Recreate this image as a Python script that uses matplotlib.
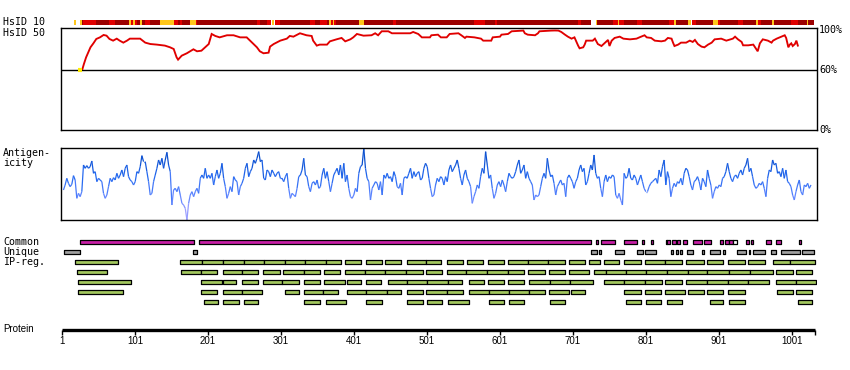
import numpy as np
import matplotlib
matplotlib.use("Agg")
import matplotlib.pyplot as plt
from matplotlib.collections import LineCollection
from matplotlib.colors import LinearSegmentedColormap, Normalize

# ---- data ------------------------------------------------------------------
prot_len = 1032
tick_res = [1, 101, 201, 301, 401, 501, 601, 701, 801, 901, 1001]

# HsID 10 heat strip: segment start residue + identity level
heat_start = [17, 20, 26, 28, 30, 48, 66, 74, 93, 95,
              98, 101, 104, 108, 110, 115, 122, 135, 154, 160,
              163, 166, 177, 185, 186, 268, 272, 282, 287, 289,
              291, 293, 300, 341, 348, 354, 364, 367, 369, 372,
              374, 377, 408, 415, 455, 459, 565, 580, 594, 597,
              708, 712, 726, 732, 734, 756, 762, 764, 771, 789,
              796, 833, 840, 842, 859, 862, 864, 869, 893, 899,
              902, 927, 934, 952, 954, 958, 974, 976, 1000, 1009,
              1021, 1023]
heat_level = list("YWYDRDRDYR" "YRDYDRDYRD" "RDYRDRDRWY" "WRDRDRDYRY"
                  "RDYDRDRDRD" "RDWYDRYRDR" "DRYDYWRDYR" "DRDYRDYDRD" "YD")
heat_end = 1031

# HsID 50 profile (%)
hs_res = [29, 31, 34, 37, 40, 44, 48, 53, 58, 62,
          66, 71, 76, 80, 85, 90, 94, 108, 115, 122,
          131, 142, 149, 154, 158, 160, 165, 172, 181, 186,
          192, 197, 202, 206, 211, 217, 227, 236, 245, 254,
          261, 268, 272, 277, 284, 286, 291, 300, 309, 313,
          318, 327, 336, 343, 345, 350, 354, 364, 368, 377,
          384, 389, 396, 400, 405, 414, 425, 430, 434, 439,
          448, 453, 478, 482, 489, 494, 505, 507, 516, 520,
          528, 532, 544, 548, 553, 555, 566, 575, 578, 589,
          591, 601, 603, 612, 617, 633, 635, 639, 649, 653,
          655, 671, 676, 681, 685, 690, 694, 699, 703, 708,
          710, 715, 717, 719, 728, 731, 735, 740, 744, 749,
          751, 754, 758, 765, 770, 779, 788, 792, 799, 802,
          808, 813, 822, 827, 831, 836, 838, 840, 845, 849,
          856, 861, 865, 868, 872, 877, 881, 886, 891, 895,
          904, 911, 920, 923, 927, 932, 934, 941, 948, 952,
          954, 957, 961, 968, 973, 975, 980, 991, 993, 996,
          998, 1000, 1002, 1005, 1007, 1009]
hs_val = [61.3, 66.3, 73.0, 78.1, 83.1, 87.1, 91.5, 93.1, 95.5, 94.8,
          91.5, 89.8, 91.8, 89.8, 87.8, 89.8, 91.8, 91.8, 87.8, 86.4,
          85.8, 84.8, 83.1, 81.4, 73.0, 70.7, 74.7, 77.1, 81.1, 79.1,
          79.7, 83.1, 86.4, 96.5, 94.5, 93.1, 95.2, 95.2, 93.1, 93.1,
          88.1, 83.1, 79.1, 77.1, 77.7, 83.8, 86.4, 89.8, 91.8, 94.5,
          93.8, 97.2, 95.2, 94.5, 89.8, 84.8, 85.8, 85.8, 89.1, 91.1,
          92.5, 89.1, 91.1, 93.1, 96.5, 94.8, 95.2, 97.2, 95.2, 99.2,
          99.2, 97.2, 97.2, 98.5, 96.5, 93.1, 93.1, 95.2, 95.8, 93.1,
          93.1, 96.5, 97.2, 95.2, 92.5, 93.8, 93.1, 91.8, 89.8, 89.8,
          93.1, 93.8, 95.8, 96.5, 99.2, 99.9, 97.2, 95.8, 95.2, 97.2,
          99.2, 99.9, 100.0, 99.9, 98.5, 95.8, 93.8, 91.8, 93.1, 84.8,
          82.1, 83.1, 85.8, 89.8, 89.8, 91.8, 86.4, 84.4, 87.1, 90.5,
          84.4, 89.8, 92.5, 93.8, 91.8, 91.1, 91.8, 93.1, 95.2, 93.1,
          92.5, 89.8, 89.1, 89.8, 92.5, 91.8, 87.8, 84.4, 85.8, 87.8,
          87.8, 89.8, 88.5, 90.5, 86.4, 83.8, 83.1, 85.8, 87.8, 91.1,
          91.8, 89.8, 91.8, 93.8, 91.1, 88.5, 85.1, 85.1, 85.8, 81.4,
          79.1, 87.1, 91.1, 89.8, 87.8, 89.8, 91.8, 95.2, 92.5, 83.1,
          85.8, 87.1, 84.4, 86.4, 89.8, 84.8]
hs_low_res = [23, 29]   # start of profile sitting on the 60% line
hs_low_val = [60, 60]

# antigenicity, sampled evenly from residue 3 to 1027
antigen = [
    0.30, 0.60, 1.00, 0.70, 0.50, 0.64, 1.16, 0.90, -0.20, 0.10,
    -0.10, 0.20, 1.80, 1.60, 1.76, 1.60, 1.70, 2.04, 1.30, 1.40,
    0.80, 1.00, 0.90, 0.80, 0.10, -0.20, 0.00, 0.50, 1.00, 0.80,
    1.04, 0.90, 1.30, 1.00, 1.20, 1.50, 1.10, 1.60, 1.80, 1.10,
    0.90, 0.80, 0.60, 0.80, 1.40, 1.30, 1.70, 2.36, 2.00, 2.00,
    1.40, 0.80, 0.00, 0.10, 0.80, 1.20, 1.60, 2.10, 1.80, 2.20,
    1.60, 2.10, 2.56, 1.80, 1.40, -0.60, 0.30, 0.40, 0.20, 0.50,
    0.00, -0.50, -0.60, -0.80, -1.50, -0.50, 0.00, 0.20, -0.10, 0.20,
    0.40, 0.10, 1.00, 1.20, 1.00, 1.60, 1.00, 1.20, 1.00, 1.30,
    0.60, 1.10, 1.50, 1.00, 1.30, 1.90, 1.00, 0.50, -0.20, 0.10,
    0.50, 0.20, 1.10, 0.90, 0.80, 0.00, 0.50, 0.70, 1.00, 1.60,
    1.90, 1.10, 1.40, 1.60, 2.10, 1.90, 2.20, 2.60, 2.00, 2.10,
    1.00, 0.90, 1.50, 1.40, 1.10, 1.50, 1.30, 1.10, 1.30, 1.40,
    1.00, 1.00, 0.80, 1.10, 1.30, 0.40, -0.20, 0.10, 0.00, -0.10,
    0.40, 1.10, 1.20, 1.50, 2.20, 1.20, 1.10, 0.50, 0.20, 0.70,
    0.80,
    0.60, 0.90, 0.40, 0.50, 1.20, 1.60, 1.00, 1.40, 0.80, 0.20,
    0.70, 1.20, 1.40, 1.60, 1.20, 1.80, 1.00, 1.90, 0.80, 1.20,
    0.40, -0.10, -0.20, 0.00, 0.40, 0.20, 1.30, 1.70, 1.80, 2.80,
    1.60, 1.00, 0.80, -0.30, 0.40, 0.60, 0.80, 0.70, 0.30, 0.80,
    0.00, 1.20, 1.00, 1.30, 1.00, 1.10, 0.80, 1.40, 1.10, 0.50,
    0.40, 0.70, 0.00, 1.00, 1.10, 1.00, 1.30, 1.60, 1.00, 1.40,
    1.10, 1.30, 1.40, 0.90, 1.00, 1.60, 1.90, 1.70, 1.00, 0.40,
    -0.10, 0.00, 0.60, 1.00, 0.80, 1.10, 1.00, 0.60, 1.10, 0.80,
    1.50, 1.80, 1.40, 1.60, 1.80, 2.10, 1.60, 1.00, 0.60, 1.20,
    1.50, 1.00, 0.80, 0.50, -0.50, -0.10, 0.20, 0.60, 0.40, 1.10,
    1.60, 1.30, 2.60, 1.80, 1.00, 1.20, 0.40, -0.20, 0.10, 0.60,
    0.80, 0.50, 0.90, 0.60, 0.20, 0.80, 1.30, 1.10, 1.00, 1.10,
    1.40, 1.80, 2.10, 1.30, 1.50, 1.80, 1.00, 1.40, 1.00, 0.80,
    0.60, -0.30, 0.00, -0.10, 0.00, 0.50, 1.00, 1.30, 1.00, 2.20,
    1.50, 1.10, 1.20, 0.70, 0.00, 0.50, 0.70, 0.90, 0.60, 0.70,
    -0.10, 1.00, 1.20, 1.00, 0.80, 0.40, 0.80, 1.00, 1.50, 1.80,
    1.40, 1.60, 0.60, 0.80, 1.30, 1.80, 1.50, 2.40, 1.30, 1.00,
    1.10, 0.40, -0.10, 0.80, 1.20, 0.80, 1.10, 1.00, 1.20, 1.10,
    0.00, -0.20, 0.10, -0.30, -0.60, 1.30, 1.00, 1.10, 1.60, 1.00,
    0.90, 1.20, 1.00, 0.60, 0.90, 1.20, 0.80, 0.40, 0.20, 0.20,
    0.50, 0.70, 0.80, 0.90, 1.00, 0.70, 1.50, 1.10, 1.70, 2.10,
    0.60, 1.40, 1.00, -0.10, 0.40, 0.70, 0.50, 0.80, 0.70, 1.00,
    0.60, 1.30, 1.60, 1.50, 1.10, 0.60, 0.30, 0.80, 0.90, 1.10,
    0.80, 0.30, 1.00, 0.80, 0.50, 1.50, 1.00, 0.60, -0.20, 0.20,
    0.50, 0.40, 0.60, 0.50, 1.00, 1.10, 1.40, 1.90, 1.40, 1.00,
    0.80, 1.10, 1.20, 1.00, 1.30, 1.50, 1.20, 1.60, 1.80, 2.20,
    1.40, 1.60, 1.10, 0.60, 0.40, 0.50, 0.70, 0.60, 0.80, 0.40,
    -0.10, 1.00, 1.50, 1.40, 2.10, 1.80, 1.90, 1.30, 1.40, 1.10,
    1.60, 1.00, 1.50, 0.80, 0.70, 0.50, 0.00, -0.30, 0.20, 0.60,
    0.90, 0.20, 0.00, 0.60, 0.50, 0.70, 0.40, 0.60]
antigen_first, antigen_last = 3, 1027

# feature tracks (start, end residue)
common = [(26, 182), (188, 726), (733, 735), (739, 758), (771, 788), (796, 798),
          (808, 811), (828, 830), (830, 834), (837, 842), (844, 848), (852, 857),
          (866, 878), (881, 890), (902, 906), (909, 915), (915, 920), (938, 942),
          (945, 947), (965, 972), (979, 986), (1011, 1014)]
common_open = [(920, 926)]
unique = [(4, 25), (181, 186), (726, 734), (737, 739), (759, 771), (789, 797),
          (799, 815), (835, 838), (842, 845), (848, 851), (857, 865), (878, 881),
          (889, 902), (906, 909), (926, 938), (942, 944), (947, 964), (972, 979),
          (986, 1012), (1015, 1031)]
ip_row1 = [(19, 78), (163, 193), (193, 222), (222, 250), (250, 278), (278, 306),
           (306, 334), (334, 362), (362, 383), (388, 410), (417, 439), (444, 466),
           (473, 500), (500, 520), (528, 550), (556, 578), (584, 606), (612, 640),
           (640, 667), (667, 690), (696, 718), (723, 738), (744, 764), (771, 794),
           (800, 827), (827, 850), (856, 880), (885, 907), (914, 936), (941, 964),
           (975, 998), (998, 1033)]
ip_row2 = [(22, 63), (164, 192), (192, 214), (221, 248), (248, 270), (277, 299),
           (304, 332), (332, 354), (360, 382), (388, 416), (416, 444), (444, 472),
           (472, 495), (500, 522), (528, 555), (555, 583), (583, 612), (612, 634),
           (640, 662), (668, 690), (696, 723), (730, 746), (746, 773), (773, 801),
           (801, 830), (830, 858), (858, 885), (885, 915), (915, 944), (944, 975),
           (979, 1002), (1007, 1029)]
ip_row3 = [(23, 95), (192, 220), (221, 240), (248, 270), (277, 303), (303, 326),
           (332, 354), (360, 388), (391, 410), (417, 438), (447, 474), (474, 501),
           (501, 530), (530, 549), (558, 579), (584, 606), (612, 634), (641, 670),
           (670, 697), (697, 729), (744, 771), (771, 800), (800, 823), (827, 850),
           (856, 885), (885, 913), (913, 941), (941, 969), (979, 1007), (1007, 1034)]
ip_row4 = [(23, 84), (192, 214), (221, 248), (248, 275), (307, 326), (332, 359),
           (359, 379), (391, 418), (418, 446), (446, 466), (473, 495), (500, 528),
           (528, 550), (558, 586), (586, 613), (613, 641), (641, 662), (668, 695),
           (698, 718), (771, 794), (800, 822), (827, 855), (858, 880), (885, 907),
           (914, 936), (981, 1002), (1007, 1029)]
ip_row5 = [(195, 215), (222, 243), (251, 270), (333, 355), (362, 390), (417, 439),
           (474, 495), (501, 522), (530, 558), (586, 607), (614, 634), (669, 690),
           (774, 794), (801, 822), (830, 850), (888, 907), (915, 936), (1009, 1029)]

# ---- layout helpers ----------------------------------------------------------
W, H = 850, 370
X0, X1 = 61, 817          # pixel span of the panels
PX_PER_RES = 0.73          # residue 1 sits at x=62
XLIM = (1 + (X0 - 62) / PX_PER_RES, 1 + (X1 - 62) / PX_PER_RES)

MONO = "DejaVu Sans Mono"
FS = 7.2
NARROW = ["Liberation Sans Narrow", "Liberation Sans"]

heat_colors = {"D": "#9c0000", "R": "#e00000", "Y": "#ffc61a", "W": "white"}


def rect(x0, y0, x1, y1):
    return [x0 / W, 1 - y1 / H, (x1 - x0) / W, (y1 - y0) / H]


def label(x, y, s, **kw):
    fig.text(x / W, 1 - y / H, s, fontsize=FS, family=MONO, va="center", **kw)


def bare(ax):
    ax.set_xlim(*XLIM)
    ax.set_xticks([])
    ax.set_yticks([])


fig = plt.figure(figsize=(W / 100, H / 100), dpi=100)

# HsID 10 strip
ax = fig.add_axes(rect(X0, 19.5, X1, 25.3))
bare(ax)
ax.axis("off")
ends = heat_start[1:] + [heat_end]
ax.broken_barh([(s, e - s) for s, e in zip(heat_start, ends)], (0, 1),
               facecolors=[heat_colors[c] for c in heat_level], linewidth=0)
ax.set_ylim(0, 1)

# HsID 50 panel
ax = fig.add_axes(rect(X0, 28.3, X1, 130))
bare(ax)
ax.set_ylim(0, 102.2)
for sp in ax.spines.values():
    sp.set_linewidth(1.0)
ax.axhline(60, color="black", lw=1.0)
ax.plot(hs_res, hs_val, color="#e00000", lw=1.35, solid_joinstyle="miter")
ax.plot(hs_low_res, hs_low_val, color="#ffee00", lw=3.0, solid_capstyle="butt")
for v in [100, 60, 0]:
    ax.text(1.003, v, f"{v}%", transform=ax.get_yaxis_transform(),
            fontsize=FS, family=MONO, va="center", ha="left")

# antigenicity panel
ax = fig.add_axes(rect(X0, 148.3, X1, 220))
bare(ax)
ax.set_ylim(-1.5, 2.8)
for sp in ax.spines.values():
    sp.set_linewidth(1.0)
pos = np.linspace(antigen_first, antigen_last, len(antigen))
vals = np.array(antigen)
pts = np.column_stack([pos, vals])
segs = np.stack([pts[:-1], pts[1:]], axis=1)
cmap = LinearSegmentedColormap.from_list(
    "ag", [(0, "#b0a8ff"), (0.35, "#5c84ff"), (0.6, "#2469f0"), (1, "#0044c0")])
lc = LineCollection(segs, cmap=cmap, norm=Normalize(-1.5, 2.8), linewidth=0.9)
lc.set_array((vals[:-1] + vals[1:]) / 2)
ax.add_collection(lc)

# feature tracks
ax = fig.add_axes(rect(X0, 237.3, X1, 307.3))
bare(ax)
ax.axis("off")
ax.set_ylim(7, 0)
bar_h = 0.4
tracks = [(common, "#c81fa6"), (common_open, "white"), (unique, "#a0a0a0"),
          (ip_row1, "#a3c85e"), (ip_row2, "#a3c85e"), (ip_row3, "#a3c85e"),
          (ip_row4, "#a3c85e"), (ip_row5, "#a3c85e")]
rows = [0, 0, 1, 2, 3, 4, 5, 6]
for (spans, col), row in zip(tracks, rows):
    ax.broken_barh([(s, e - s) for s, e in spans], (row + 0.5 - bar_h / 2, bar_h),
                   facecolor=col, edgecolor="black", linewidth=0.9)

# protein ruler
ax = fig.add_axes(rect(X0, 320, X1, 352))
bare(ax)
ax.axis("off")
ax.set_ylim(32, 0)
ax.plot([1, prot_len + 0.5], [10, 10], color="black", lw=2.4, solid_capstyle="butt")
ax.vlines(tick_res + [prot_len + 0.5], 10, 15, color="black", lw=1.0)
for r in tick_res:
    ax.text(r, 16.5, str(r), ha="center", va="top", fontsize=7, family=NARROW)

label(3, 22, "HsID 10")
label(3, 33.5, "HsID 50")
label(3, 152.5, "Antigen-")
label(3, 162.5, "icity")
label(3, 242.3, "Common")
label(3, 252.3, "Unique")
label(3, 262.2, "IP-reg.")
fig.text(3 / W, 1 - 329 / H, "Protein", fontsize=7, family=NARROW, va="center")

fig.savefig("out.png", dpi=100)
